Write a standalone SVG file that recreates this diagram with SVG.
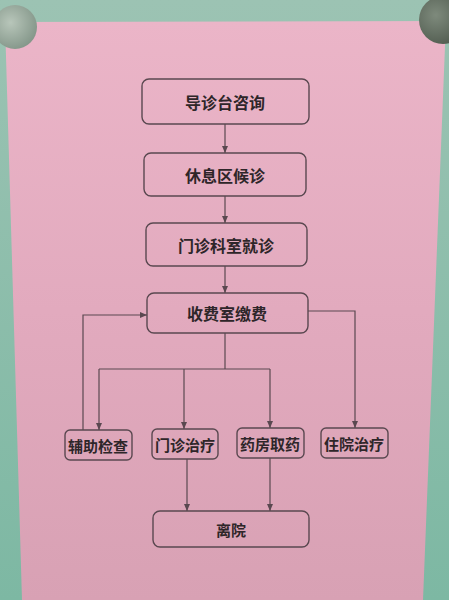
<svg xmlns="http://www.w3.org/2000/svg" width="449" height="600" viewBox="0 0 449 600">
<defs>
<linearGradient id="paper" x1="0" y1="0" x2="0" y2="1">
<stop offset="0" stop-color="#ebb5c8"/>
<stop offset="0.5" stop-color="#e2aabe"/>
<stop offset="1" stop-color="#d8a1b4"/>
</linearGradient>
<linearGradient id="wall" x1="0" y1="0" x2="0" y2="1">
<stop offset="0" stop-color="#9cc3b3"/>
<stop offset="1" stop-color="#7db8a3"/>
</linearGradient>
<radialGradient id="coinL" cx="0.4" cy="0.4" r="0.7">
<stop offset="0" stop-color="#b8c6ba"/>
<stop offset="1" stop-color="#7f9285"/>
</radialGradient>
<radialGradient id="coinR" cx="0.35" cy="0.4" r="0.7">
<stop offset="0" stop-color="#7e8a7c"/>
<stop offset="1" stop-color="#4f5a4e"/>
</radialGradient>
<marker id="arr" markerWidth="8" markerHeight="8" refX="7" refY="4" orient="auto" markerUnits="userSpaceOnUse">
<path d="M0,1 L7,4 L0,7 Z" fill="#5a4850"/>
</marker>
<style>
.box{fill:none;stroke:#5a4850;stroke-width:1.4}
.lbl{font-family:"Noto Sans CJK SC","Noto Sans",sans-serif;font-weight:600;fill:#2e2629;text-anchor:middle;dominant-baseline:central}
.big{font-size:16px}
.sm{font-size:15px}
.ln{fill:none;stroke:#5a4850;stroke-width:1.2}
</style>
</defs>
<rect x="0" y="0" width="449" height="600" fill="url(#wall)"/>
<polygon points="5,22 446,21 423,600 22,600" fill="url(#paper)"/>
<circle cx="15" cy="27" r="22" fill="url(#coinL)"/>
<circle cx="443" cy="20" r="24" fill="url(#coinR)"/>

<g id="connectors">
<line class="ln" x1="225" y1="124" x2="225" y2="153" marker-end="url(#arr)"/>
<line class="ln" x1="225" y1="196" x2="225" y2="223" marker-end="url(#arr)"/>
<line class="ln" x1="225" y1="266" x2="225" y2="293" marker-end="url(#arr)"/>
<polyline class="ln" points="225,333 225,369"/>
<polyline class="ln" points="99,369 270,369"/>
<line class="ln" x1="99" y1="369" x2="99" y2="430" marker-end="url(#arr)"/>
<line class="ln" x1="184" y1="369" x2="184" y2="429" marker-end="url(#arr)"/>
<line class="ln" x1="270" y1="369" x2="270" y2="428" marker-end="url(#arr)"/>
<polyline class="ln" points="83,430 83,315 147,315" marker-end="url(#arr)"/>
<polyline class="ln" points="308,311 355,311 355,428" marker-end="url(#arr)"/>
<line class="ln" x1="187" y1="459" x2="187" y2="511" marker-end="url(#arr)"/>
<line class="ln" x1="270" y1="458" x2="270" y2="511" marker-end="url(#arr)"/>
</g>

<g id="n1"><rect class="box" x="142" y="79" width="167" height="45" rx="7"/><text class="lbl big" x="225" y="102">导诊台咨询</text></g>
<g id="n2"><rect class="box" x="144" y="153" width="162" height="43" rx="7"/><text class="lbl big" x="225" y="175">休息区候诊</text></g>
<g id="n3"><rect class="box" x="146" y="223" width="161" height="43" rx="7"/><text class="lbl big" x="226" y="245">门诊科室就诊</text></g>
<g id="n4"><rect class="box" x="147" y="293" width="161" height="40" rx="7"/><text class="lbl big" x="227" y="313">收费室缴费</text></g>
<g id="n5"><rect class="box" x="65" y="430" width="67" height="30" rx="5"/><text class="lbl sm" x="98" y="445">辅助检查</text></g>
<g id="n6"><rect class="box" x="152" y="429" width="66" height="30" rx="5"/><text class="lbl sm" x="185" y="444">门诊治疗</text></g>
<g id="n7"><rect class="box" x="237" y="428" width="67" height="30" rx="5"/><text class="lbl sm" x="270" y="443">药房取药</text></g>
<g id="n8"><rect class="box" x="321" y="428" width="67" height="30" rx="5"/><text class="lbl sm" x="354" y="443">住院治疗</text></g>
<g id="n9"><rect class="box" x="153" y="511" width="156" height="36" rx="7"/><text class="lbl sm" x="231" y="529">离院</text></g>
</svg>
